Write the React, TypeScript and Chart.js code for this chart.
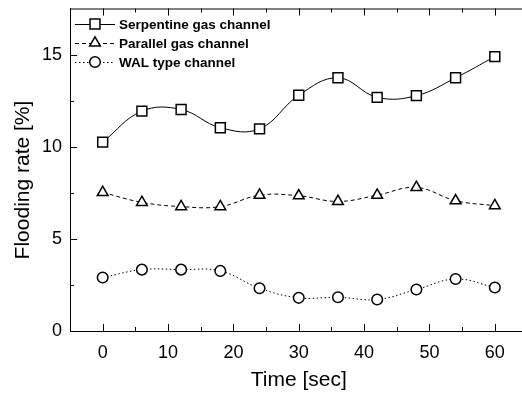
import React, { useEffect, useRef } from "react";
import { Chart, registerables } from "chart.js";

Chart.register(...registerables);

// Sampling times (sec)
const times = [0, 6, 12, 18, 24, 30, 36, 42, 48, 54, 60];

// Flooding rate (%) for each channel type
const serpentine = [10.25, 11.93, 12.02, 11.03, 10.97, 12.79, 13.74, 12.68, 12.77, 13.74, 14.89];
const parallel = [7.52, 6.98, 6.75, 6.75, 7.37, 7.34, 7.03, 7.37, 7.79, 7.07, 6.8];
const wal = [2.9, 3.33, 3.33, 3.26, 2.32, 1.8, 1.83, 1.71, 2.25, 2.82, 2.36];

const seriesNames = ["Serpentine gas channel", "Parallel gas channel", "WAL type channel"];

const xTicks = [0, 10, 20, 30, 40, 50, 60];
const xMinorTicks = [5, 15, 25, 35, 45, 55];
const yTicks = [0, 5, 10, 15];
const yMinorTicks = [2.5, 7.5, 12.5];

const FONT = "'Liberation Sans', Arial, Helvetica, sans-serif";

type Style = { pointStyle: "rect" | "triangle" | "circle"; radius: number; dash: number[] };
const styles: Style[] = [
  { pointStyle: "rect", radius: 7, dash: [] },
  { pointStyle: "triangle", radius: 6.2, dash: [4, 3] },
  { pointStyle: "circle", radius: 5.3, dash: [1.5, 2.5] },
];

// Legend marker, same geometry as Chart.js point styles
function marker(ctx: CanvasRenderingContext2D, s: Style, x: number, y: number) {
  const r = s.radius;
  ctx.beginPath();
  if (s.pointStyle === "rect") {
    const h = Math.SQRT1_2 * r;
    ctx.rect(x - h, y - h, 2 * h, 2 * h);
  } else if (s.pointStyle === "triangle") {
    for (let k = 0; k < 3; k++) {
      const a = (k * 2 * Math.PI) / 3;
      const px = x + Math.sin(a) * r;
      const py = y - Math.cos(a) * r;
      if (k === 0) ctx.moveTo(px, py);
      else ctx.lineTo(px, py);
    }
    ctx.closePath();
  } else {
    ctx.arc(x, y, r, 0, Math.PI * 2);
  }
  ctx.fill();
  ctx.stroke();
}

const frame = {
  id: "frame",
  afterDraw(chart: any) {
    const { ctx, chartArea, scales } = chart;
    const x = scales.x;
    const y = scales.y;
    ctx.save();
    ctx.strokeStyle = "#000";
    ctx.lineWidth = 1;
    // top border
    ctx.beginPath();
    ctx.moveTo(chartArea.left, chartArea.top + 0.5);
    ctx.lineTo(chartArea.right, chartArea.top + 0.5);
    ctx.stroke();
    // inward ticks
    const tickX = (vals: number[], len: number) => {
      vals.forEach((v) => {
        const px = Math.round(x.getPixelForValue(v)) + 0.5;
        ctx.beginPath();
        ctx.moveTo(px, chartArea.bottom);
        ctx.lineTo(px, chartArea.bottom - len);
        ctx.moveTo(px, chartArea.top);
        ctx.lineTo(px, chartArea.top + len);
        ctx.stroke();
      });
    };
    const tickY = (vals: number[], len: number) => {
      vals.forEach((v) => {
        const py = Math.round(y.getPixelForValue(v)) + 0.5;
        ctx.beginPath();
        ctx.moveTo(chartArea.left, py);
        ctx.lineTo(chartArea.left + len, py);
        ctx.stroke();
      });
    };
    tickX(xTicks, 7);
    tickX(xMinorTicks, 4);
    tickY(yTicks, 7);
    tickY(yMinorTicks, 4);

    // axis titles
    ctx.fillStyle = "#000";
    ctx.font = `21px ${FONT}`;
    ctx.textAlign = "center";
    ctx.textBaseline = "middle";
    ctx.fillText("Time [sec]", (chartArea.left + chartArea.right) / 2, 380);
    ctx.save();
    ctx.translate(23, 180);
    ctx.rotate(-Math.PI / 2);
    ctx.fillText("Flooding rate [%]", 0, 0);
    ctx.restore();

    // legend
    const rows = [24, 43, 62];
    ctx.font = `bold 13.5px ${FONT}`;
    ctx.textAlign = "left";
    rows.forEach((ry, i) => {
      const s = styles[i];
      ctx.save();
      ctx.setLineDash(s.dash);
      ctx.lineWidth = 1;
      ctx.beginPath();
      ctx.moveTo(75, ry + 0.5);
      ctx.lineTo(115, ry + 0.5);
      ctx.stroke();
      ctx.restore();
      ctx.save();
      ctx.lineWidth = 1.5;
      ctx.strokeStyle = "#000";
      ctx.fillStyle = "#fff";
      marker(ctx, s, 95, ry);
      ctx.restore();
      ctx.fillStyle = "#000";
      ctx.fillText(seriesNames[i], 119, ry + 1);
    });
    ctx.restore();
  },
};

const noPad = (s: any) => {
  s.paddingLeft = 0;
  s.paddingRight = 0;
  s.paddingTop = 0;
  s.paddingBottom = 0;
};

export default function App() {
  const ref = useRef<HTMLCanvasElement>(null);

  useEffect(() => {
    const canvas = ref.current!;
    const allSeries = [serpentine, parallel, wal];
    const chart = new Chart(canvas, {
      type: "line",
      data: {
        datasets: allSeries.map((vals, i) => ({
          label: seriesNames[i],
          data: times.map((t, k) => ({ x: t, y: vals[k] })),
          borderColor: "#000",
          borderWidth: 1,
          borderDash: styles[i].dash,
          tension: 0.4,
          pointStyle: styles[i].pointStyle,
          pointRadius: styles[i].radius,
          pointBorderWidth: 1.5,
          pointBorderColor: "#000",
          pointBackgroundColor: "#fff",
          clip: false as any,
        })),
      },
      options: {
        responsive: false,
        animation: false,
        devicePixelRatio: 1,
        layout: { padding: { top: 7, right: 0, left: 0, bottom: 0 } },
        plugins: { legend: { display: false }, tooltip: { enabled: false } },
        scales: {
          x: {
            type: "linear",
            min: -5,
            max: 65,
            grid: { display: false, drawTicks: false },
            border: { display: true, color: "#000", width: 1 },
            afterBuildTicks: (s: any) => {
              s.ticks = xTicks.map((v) => ({ value: v }));
            },
            afterFit: (s: any) => {
              s.height = 62;
              noPad(s);
            },
            ticks: {
              padding: 11,
              color: "#000",
              font: { family: FONT, size: 18 },
              maxRotation: 0,
            },
          },
          y: {
            type: "linear",
            min: 0,
            max: 17.5,
            grid: { display: false, drawTicks: false },
            border: { display: true, color: "#000", width: 1 },
            afterBuildTicks: (s: any) => {
              s.ticks = yTicks.map((v) => ({ value: v }));
            },
            afterFit: (s: any) => {
              s.width = 70;
              noPad(s);
            },
            ticks: {
              padding: 8,
              color: "#000",
              font: { family: FONT, size: 18 },
            },
          },
        },
      },
      plugins: [frame],
    });
    return () => chart.destroy();
  }, []);

  return (
    <div style={{ position: "fixed", left: 0, top: 0, width: 522, height: 393, overflow: "hidden", background: "#fff" }}>
      <canvas ref={ref} width={536} height={393} style={{ display: "block" }} />
    </div>
  );
}
